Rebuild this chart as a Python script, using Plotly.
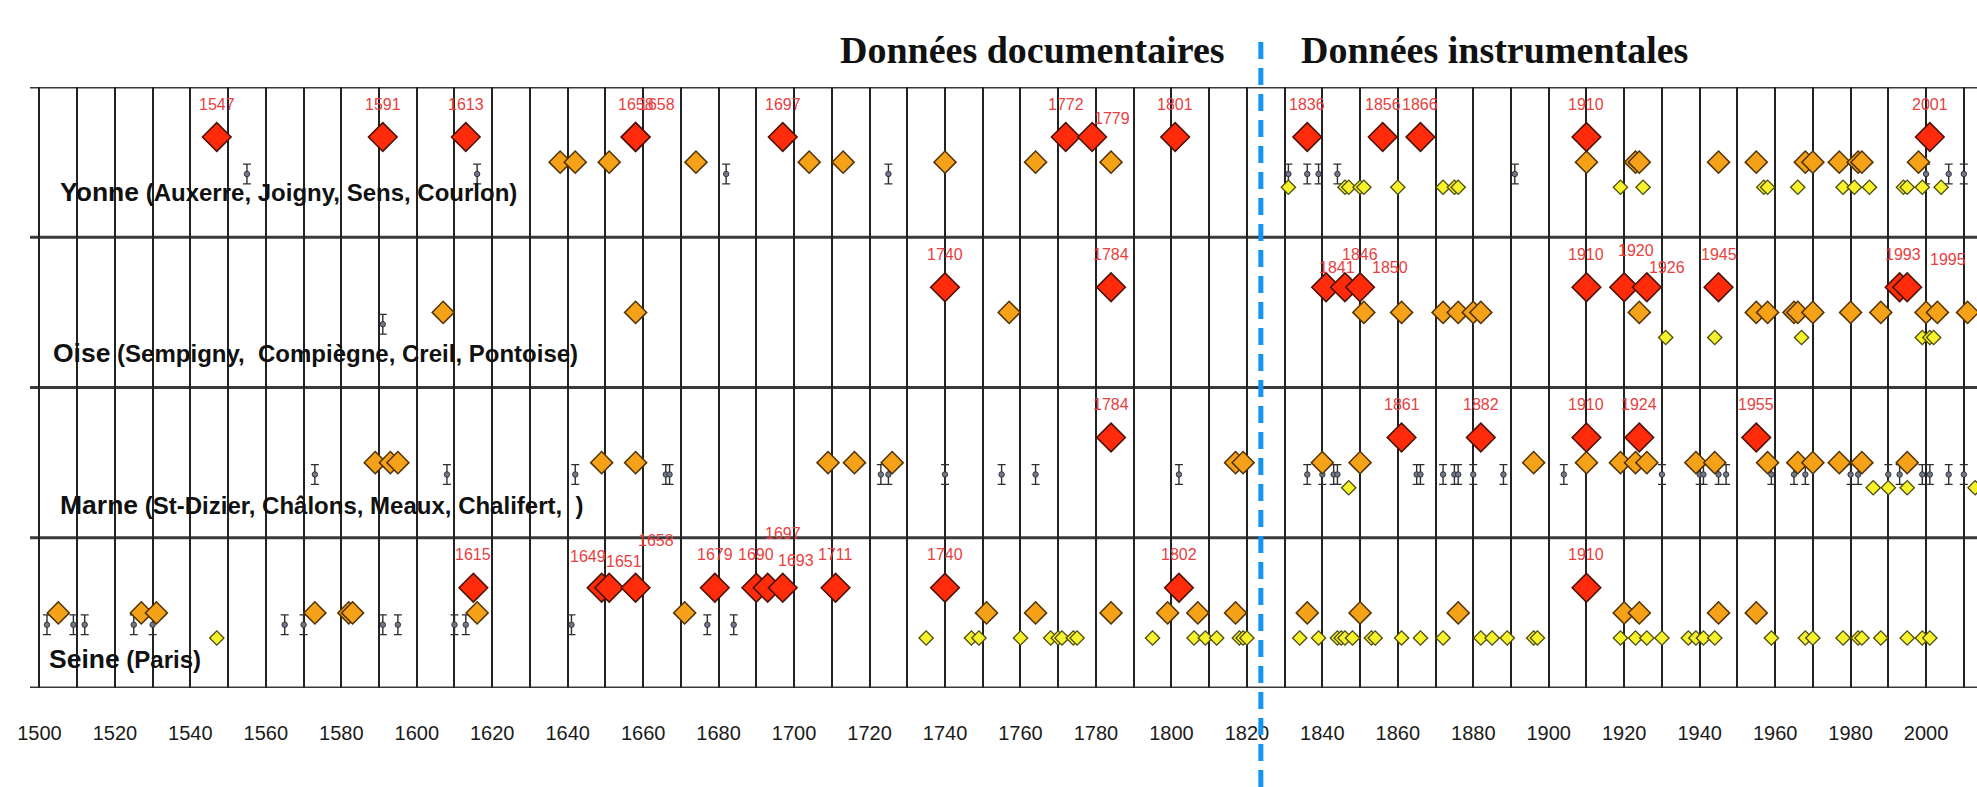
import plotly.graph_objects as go

# ---------------- data ----------------
tick_labels = ["1500", "1520", "1540", "1560", "1580", "1600", "1620", "1640",
               "1660", "1680", "1700", "1720", "1740", "1760", "1780", "1800",
               "1820", "1840", "1860", "1880", "1900", "1920", "1940", "1960",
               "1980", "2000"]

divider_year = 1823.7
header_doc = "Données documentaires"
header_ins = "Données instrumentales"

river_names = ["Seine", "Marne", "Oise", "Yonne"]          # bottom -> top
river_places = ["(Paris)",
                "(St-Dizier, Châlons, Meaux, Chalifert,&nbsp; )",
                "(Sempigny,&nbsp; Compiègne, Creil, Pontoise)",
                "(Auxerre, Joigny, Sens, Courlon)"]

# major floods (red, labelled)
yonne_red = [1547, 1591, 1613, 1658, 1658, 1697, 1772, 1779, 1801, 1836, 1856, 1866, 1910, 2001]
oise_red = [1740, 1784, 1841, 1846, 1850, 1910, 1920, 1926, 1945, 1993, 1995]
marne_red = [1784, 1861, 1882, 1910, 1924, 1955]
seine_red = [1615, 1649, 1651, 1658, 1679, 1690, 1693, 1697, 1711, 1740, 1802, 1910]

# strong floods (orange)
yonne_orange = [1638, 1642, 1651, 1674, 1704, 1713, 1740, 1764, 1784, 1910, 1923, 1924,
                1945, 1955, 1968, 1970, 1977, 1982, 1983, 1998]
oise_orange = [1607, 1658, 1757, 1851, 1861, 1872, 1876, 1880, 1882, 1924, 1955, 1958,
               1965, 1966, 1970, 1980, 1988, 2000, 2003, 2011]
marne_orange = [1589, 1593, 1595, 1649, 1658, 1709, 1716, 1726, 1817, 1819, 1840, 1850,
                1896, 1910, 1919, 1923, 1926, 1939, 1944, 1958, 1966, 1970, 1977, 1983, 1995]
seine_orange = [1505, 1527, 1531, 1573, 1582, 1583, 1616, 1671, 1751, 1764, 1784, 1799,
                1807, 1817, 1836, 1850, 1876, 1920, 1924, 1945, 1955]

# ordinary floods (yellow)
yonne_yellow = [1831, 1846, 1847, 1850, 1851, 1860, 1872, 1875, 1876, 1919, 1925, 1957,
                1958, 1966, 1978, 1981, 1985, 1994, 1995, 1999, 2004]
oise_yellow = [1931, 1944, 1967, 1999, 2001, 2002]
marne_yellow = [1847, 1986, 1990, 1995, 2013]
seine_yellow = [1547, 1735, 1747, 1749, 1760, 1768, 1770, 1771, 1774, 1775, 1795, 1806,
                1809, 1812, 1818, 1819, 1820, 1834, 1839, 1844, 1845, 1846, 1848, 1853,
                1854, 1861, 1866, 1872, 1882, 1885, 1889, 1896, 1897, 1919, 1923, 1926,
                1930, 1937, 1939, 1941, 1944, 1959, 1968, 1970, 1978, 1982, 1983, 1988,
                1995, 1999, 2001]

# uncertain floods (grey, with error bar)
yonne_gray = [1555, 1616, 1682, 1725, 1831, 1836, 1839, 1844, 1891, 2000, 2006, 2010]
oise_gray = [1591]
marne_gray = [1573, 1608, 1642, 1666, 1667, 1723, 1725, 1740, 1755, 1764, 1802, 1836,
              1840, 1843, 1844, 1865, 1866, 1872, 1875, 1876, 1880, 1888, 1904, 1930,
              1940, 1941, 1945, 1947, 1959, 1965, 1968, 1980, 1982, 1990, 1993, 1999,
              2001, 2006, 2010]
seine_gray = [1502, 1509, 1512, 1525, 1530, 1565, 1570, 1591, 1595, 1610, 1613, 1641,
              1677, 1684]

river_data = [
    (seine_red, seine_orange, seine_yellow, seine_gray),
    (marne_red, marne_orange, marne_yellow, marne_gray),
    (oise_red, oise_orange, oise_yellow, oise_gray),
    (yonne_red, yonne_orange, yonne_yellow, yonne_gray),
]

# ---------------- layout constants ----------------
W, H = 1977, 787
M_L, M_R, M_T, M_B = 30, 0, 87, 99
PLOT_W = W - M_L - M_R
PLOT_H = H - M_T - M_B
X_RANGE = [1497.5, 2013.5]

LV_RED, LV_ORANGE, LV_GRAY, LV_YELLOW = 0.667, 0.50, 0.421, 0.333
title_level = [0.19, 0.215, 0.228, 0.30]     # per row (bottom -> top)
title_left_px = [17, 27.7, 21.3, 27.7]

# pixel nudges of the red year labels (row name, index in red list) -> (dx, dy)
label_nudge = {
    ("Yonne", 4): (21, 0), ("Yonne", 7): (20, -14),
    ("Oise", 2): (11, -13), ("Oise", 3): (15, 0), ("Oise", 4): (30, -13),
    ("Oise", 6): (12, 4), ("Oise", 7): (20, -13), ("Oise", 9): (3, 0),
    ("Oise", 10): (41, -5),
    ("Seine", 1): (-14, -2), ("Seine", 2): (15, -7), ("Seine", 3): (20, 14),
    ("Seine", 6): (28, -6), ("Seine", 7): (0, 21),
}

SANS = "Arial, Liberation Sans, sans-serif"
SERIF = "Times New Roman, Liberation Serif, serif"

fig = go.Figure()

for r, (red, orange, yellow, gray) in enumerate(river_data):
    fig.add_trace(go.Scatter(
        x=gray, y=[r + LV_GRAY] * len(gray), mode="markers",
        marker=dict(symbol="circle", size=5.5, color="#6f7888",
                    line=dict(color="#222", width=0.8)),
        error_y=dict(type="constant", value=0.066, thickness=1.4, width=4,
                     color="#2e2e2e"),
        hoverinfo="x"))
    fig.add_trace(go.Scatter(
        x=yellow, y=[r + LV_YELLOW] * len(yellow), mode="markers",
        marker=dict(symbol="diamond", size=11, color="#F5F22C",
                    line=dict(color="#4d4a10", width=1.3)),
        hoverinfo="x"))
    fig.add_trace(go.Scatter(
        x=orange, y=[r + LV_ORANGE] * len(orange), mode="markers",
        marker=dict(symbol="diamond", size=17, color="#F6A219",
                    line=dict(color="#4f3306", width=1.5)),
        hoverinfo="x"))
    fig.add_trace(go.Scatter(
        x=red, y=[r + LV_RED] * len(red), mode="markers",
        marker=dict(symbol="diamond", size=22, color="#FF2B0A",
                    line=dict(color="#4a1208", width=1.6)),
        hoverinfo="x"))

annotations = []
for r, (red, _o, _y, _g) in enumerate(river_data):
    name = river_names[r]
    for i, yr in enumerate(red):
        dx, dy = label_nudge.get((name, i), (0, 0))
        annotations.append(dict(
            x=yr, y=r + LV_RED, xref="x", yref="y", text=str(yr),
            showarrow=False, xshift=dx, yshift=33 + dy,
            font=dict(family=SANS, size=16, color="#E84040")))
    annotations.append(dict(
        x=title_left_px[r] / PLOT_W, y=r + title_level[r], xref="paper", yref="y",
        xanchor="left", yanchor="middle", showarrow=False,
        text=f"<b><span style='font-size:26.5px'>{name}</span> {river_places[r]}</b>",
        font=dict(family=SANS, size=24, color="#111")))

# headers
annotations.append(dict(
    x=(1227 - M_L) / PLOT_W, y=(H - M_B - 50) / PLOT_H, xref="paper", yref="paper",
    xanchor="right", yanchor="middle", showarrow=False,
    text=f"<b>{header_doc}</b>", font=dict(family=SERIF, size=38, color="#111")))
annotations.append(dict(
    x=(1299 - M_L) / PLOT_W, y=(H - M_B - 50) / PLOT_H, xref="paper", yref="paper",
    xanchor="left", yanchor="middle", showarrow=False,
    text=f"<b>{header_ins}</b>", font=dict(family=SERIF, size=38, color="#111")))

shapes = []
for k in range(5):
    shapes.append(dict(type="line", xref="paper", yref="y", x0=0, x1=1, y0=k, y1=k,
                       layer="between", line=dict(color="#3a3a3a", width=3)))
shapes.append(dict(type="line", xref="x", yref="paper",
                   x0=divider_year, x1=divider_year,
                   y0=-(M_B) / PLOT_H, y1=(H - M_B - 42) / PLOT_H,
                   layer="above", line=dict(color="#1595F2", width=5, dash="17px,9px")))

grid_vals = list(range(1500, 2011, 10))
grid_text = [str(v) if str(v) in tick_labels else "" for v in grid_vals]

fig.update_layout(
    width=W, height=H, margin=dict(l=M_L, r=M_R, t=M_T, b=M_B, pad=0),
    paper_bgcolor="white", plot_bgcolor="white", showlegend=False,
    xaxis=dict(range=X_RANGE, tickmode="array", tickvals=grid_vals, ticktext=grid_text,
               showgrid=True, gridcolor="#222", gridwidth=1.5, zeroline=False,
               showline=False, ticks="", ticklabelstandoff=31,
               tickfont=dict(family=SANS, size=20, color="#1a1a1a")),
    yaxis=dict(range=[0, 4], showgrid=False, zeroline=False, showticklabels=False,
               showline=False),
    annotations=annotations, shapes=shapes,
)

fig.write_html("out.html", config={"displayModeBar": False},
               post_script="document.body.style.margin='0';document.body.style.overflow='hidden';")
